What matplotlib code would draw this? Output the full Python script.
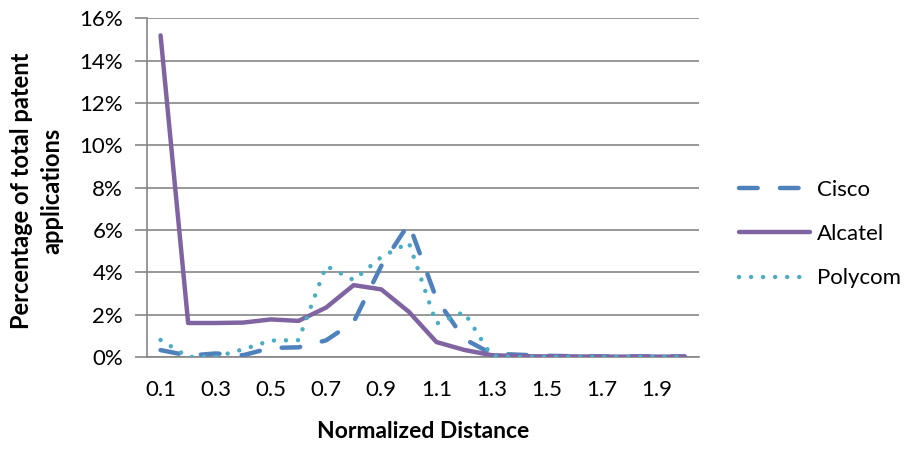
import matplotlib
matplotlib.use('Agg')
import matplotlib.pyplot as plt

plt.rcParams['font.family'] = ['Lato', 'DejaVu Sans']

# categories (normalized distance)
distance = [0.1, 0.2, 0.3, 0.4, 0.5, 0.6, 0.7, 0.8, 0.9, 1.0,
            1.1, 1.2, 1.3, 1.4, 1.5, 1.6, 1.7, 1.8, 1.9, 2.0]

# percentage of total patent applications
cisco = [0.32, 0.06, 0.16, 0.08, 0.42, 0.45, 0.78, 1.65, 4.3, 6.3,
         2.75, 0.85, 0.15, 0.1, 0.05, 0.03, 0.02, 0.02, 0.02, 0.02]
alcatel = [15.2, 1.6, 1.6, 1.62, 1.77, 1.7, 2.33, 3.39, 3.19, 2.13,
           0.7, 0.33, 0.08, 0.03, 0.02, 0.02, 0.01, 0.01, 0.01, 0.01]
polycom = [0.8, 0.0, 0.0, 0.36, 0.77, 0.79, 4.3, 3.63, 4.72, 5.4,
           1.57, 2.12, 0.05, 0.0, 0.0, 0.0, 0.0, 0.0, 0.0, 0.0]

GRID = '#868686'

fig = plt.figure(figsize=(9.06, 4.5), dpi=100)
ax = fig.add_axes([0.162, 0.207, 0.609, 0.752])

pos = list(range(len(distance)))
lw = 3.2
ax.plot(pos, cisco, color='#4F81BD', lw=lw, linestyle=(0, (4.2, 5.0)),
        dash_capstyle='round', label='Cisco', zorder=3)
ax.plot(pos, alcatel, color='#8064A2', lw=lw, solid_capstyle='round',
        solid_joinstyle='round', label='Alcatel', zorder=4)
ax.plot(pos, polycom, color='#4BACC6', lw=lw, linestyle=(0, (0.01, 2.7)),
        dash_capstyle='round', label='Polycom', zorder=5)

ax.set_xlim(-0.5, len(distance) - 0.5)
ax.set_ylim(0, 16)
ax.set_yticks(range(0, 17, 2))
ax.set_yticklabels([f'{v}%' for v in range(0, 17, 2)])
ax.set_xticks(pos[::2])
ax.set_xticklabels([f'{d:.1f}' for d in distance[::2]])

ax.grid(axis='y', color=GRID, lw=1.2)
ax.set_axisbelow(True)
for side in ['top', 'right']:
    ax.spines[side].set_visible(False)
for side in ['left', 'bottom']:
    ax.spines[side].set_color(GRID)
    ax.spines[side].set_linewidth(1.2)

ax.tick_params(axis='y', length=9, width=1.2, color=GRID, pad=8, labelsize=16)
ax.tick_params(axis='x', length=0, pad=17, labelsize=16)

ax.set_xlabel('Normalized Distance', fontsize=16.5, fontweight='bold')
ax.xaxis.set_label_coords(0.5, -0.19)
ax.set_ylabel('Percentage of total patent\napplications', fontsize=17,
              fontweight='bold', linespacing=1.35)
ax.yaxis.set_label_coords(-0.152, 0.49)

ax.legend(loc='center left', bbox_to_anchor=(1.074, 0.363), frameon=False,
          fontsize=16, handlelength=3.2, handletextpad=0.3, labelspacing=1.1,
          borderpad=0, borderaxespad=0)

fig.savefig('out.png', dpi=100)
